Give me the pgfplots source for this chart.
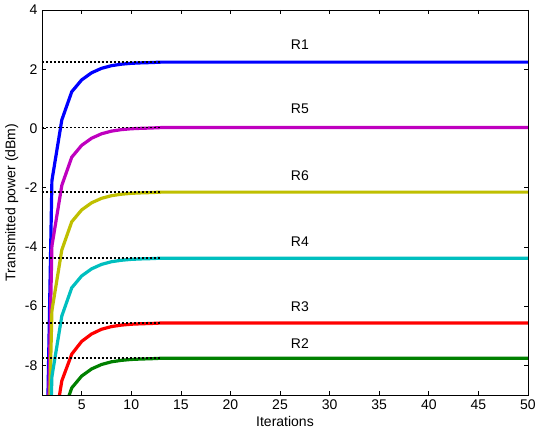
\documentclass[border=0pt]{standalone}
\usepackage{fontspec}
\setmainfont{Liberation Sans}
\usepackage{pgfplots}
\pgfplotsset{compat=1.18}
\definecolor{mblue}{rgb}{0,0,1}
\definecolor{mmag}{rgb}{0.75,0,0.75}
\definecolor{myel}{rgb}{0.75,0.75,0}
\definecolor{mcyan}{rgb}{0,0.75,0.75}
\definecolor{mred}{rgb}{1,0,0}
\definecolor{mgreen}{rgb}{0,0.5,0}
\begin{document}
\begin{tikzpicture}
\begin{axis}[
  at={(0,0)}, anchor=south west,
  scale only axis, width=364.5pt, height=288.75pt,
  xmin=1, xmax=50, ymin=-9, ymax=4,
  xtick={5,10,...,50}, ytick={-8,-6,...,4},
  xticklabels={5,10,15,20,25,30,35,40,45,50},
  yticklabels={-8,-6,-4,-2,0,2,4},
  tick align=inside, major tick length=3pt,
  tick style={black, line width=0.5pt},
  axis line style={line width=0.6pt},
  ticklabel style={font=\fontsize{10.5}{12}\selectfont},
  label style={font=\fontsize{10.5}{12}\selectfont},
  xlabel={Iterations}, ylabel={Transmitted power (dBm)},
  xlabel style={yshift=2pt},
  ylabel style={yshift=-2pt},
  curve/.style={line width=2.4pt, line join=round},
  level/.style={black, line width=1.2pt, dash pattern=on 1.4pt off 1.6pt},
]
% R1
\addplot[curve, mblue] coordinates {(1,-20) (2,-1.76) (3,0.29) (4,1.24) (5,1.64) (6,1.88) (7,2.03) (8,2.12) (9,2.17) (10,2.20) (11,2.215) (12,2.225) (13,2.24) (50,2.24)};
% R5
\addplot[curve, mmag] coordinates {(1,-20) (2,-3.97) (3,-1.92) (4,-0.97) (5,-0.57) (6,-0.33) (7,-0.18) (8,-0.09) (9,-0.04) (10,-0.01) (11,0.005) (12,0.015) (13,0.03) (50,0.03)};
% R6
\addplot[curve, myel] coordinates {(1,-20) (2,-6.15) (3,-4.10) (4,-3.15) (5,-2.75) (6,-2.51) (7,-2.36) (8,-2.27) (9,-2.22) (10,-2.19) (11,-2.175) (12,-2.165) (13,-2.15) (50,-2.15)};
% R4
\addplot[curve, mcyan] coordinates {(1,-20) (2,-8.38) (3,-6.33) (4,-5.38) (5,-4.98) (6,-4.74) (7,-4.59) (8,-4.50) (9,-4.45) (10,-4.42) (11,-4.405) (12,-4.395) (13,-4.38) (50,-4.38)};
% R3
\addplot[curve, mred] coordinates {(1,-20) (2,-10.57) (3,-8.52) (4,-7.62) (5,-7.19) (6,-6.94) (7,-6.78) (8,-6.69) (9,-6.64) (10,-6.61) (11,-6.595) (12,-6.585) (13,-6.57) (50,-6.57)};
% R2
\addplot[curve, mgreen] coordinates {(1,-20) (2,-11.76) (3,-9.71) (4,-8.76) (5,-8.36) (6,-8.12) (7,-7.97) (8,-7.88) (9,-7.83) (10,-7.80) (11,-7.785) (12,-7.775) (13,-7.76) (50,-7.76)};
% target levels
\addplot[level] coordinates {(1,2.24) (13,2.24)};
\addplot[level] coordinates {(1,0.03) (13,0.03)};
\addplot[level] coordinates {(1,-2.15) (13,-2.15)};
\addplot[level] coordinates {(1,-4.38) (13,-4.38)};
\addplot[level] coordinates {(1,-6.57) (13,-6.57)};
\addplot[level] coordinates {(1,-7.76) (13,-7.76)};
% relay names
\begin{scope}[every node/.style={font=\fontsize{10.5}{12}\selectfont}]
\node at (axis cs:27,2.84) {R1};
\node at (axis cs:27,0.66) {R5};
\node at (axis cs:27,-1.60) {R6};
\node at (axis cs:27,-3.84) {R4};
\node at (axis cs:27,-6.03) {R3};
\node at (axis cs:27,-7.28) {R2};
\end{scope}
\end{axis}
\pgfresetboundingbox
\path[use as bounding box] (-31.5pt,-31.5pt) rectangle (371.25pt,296.25pt);
\end{tikzpicture}
\end{document}
